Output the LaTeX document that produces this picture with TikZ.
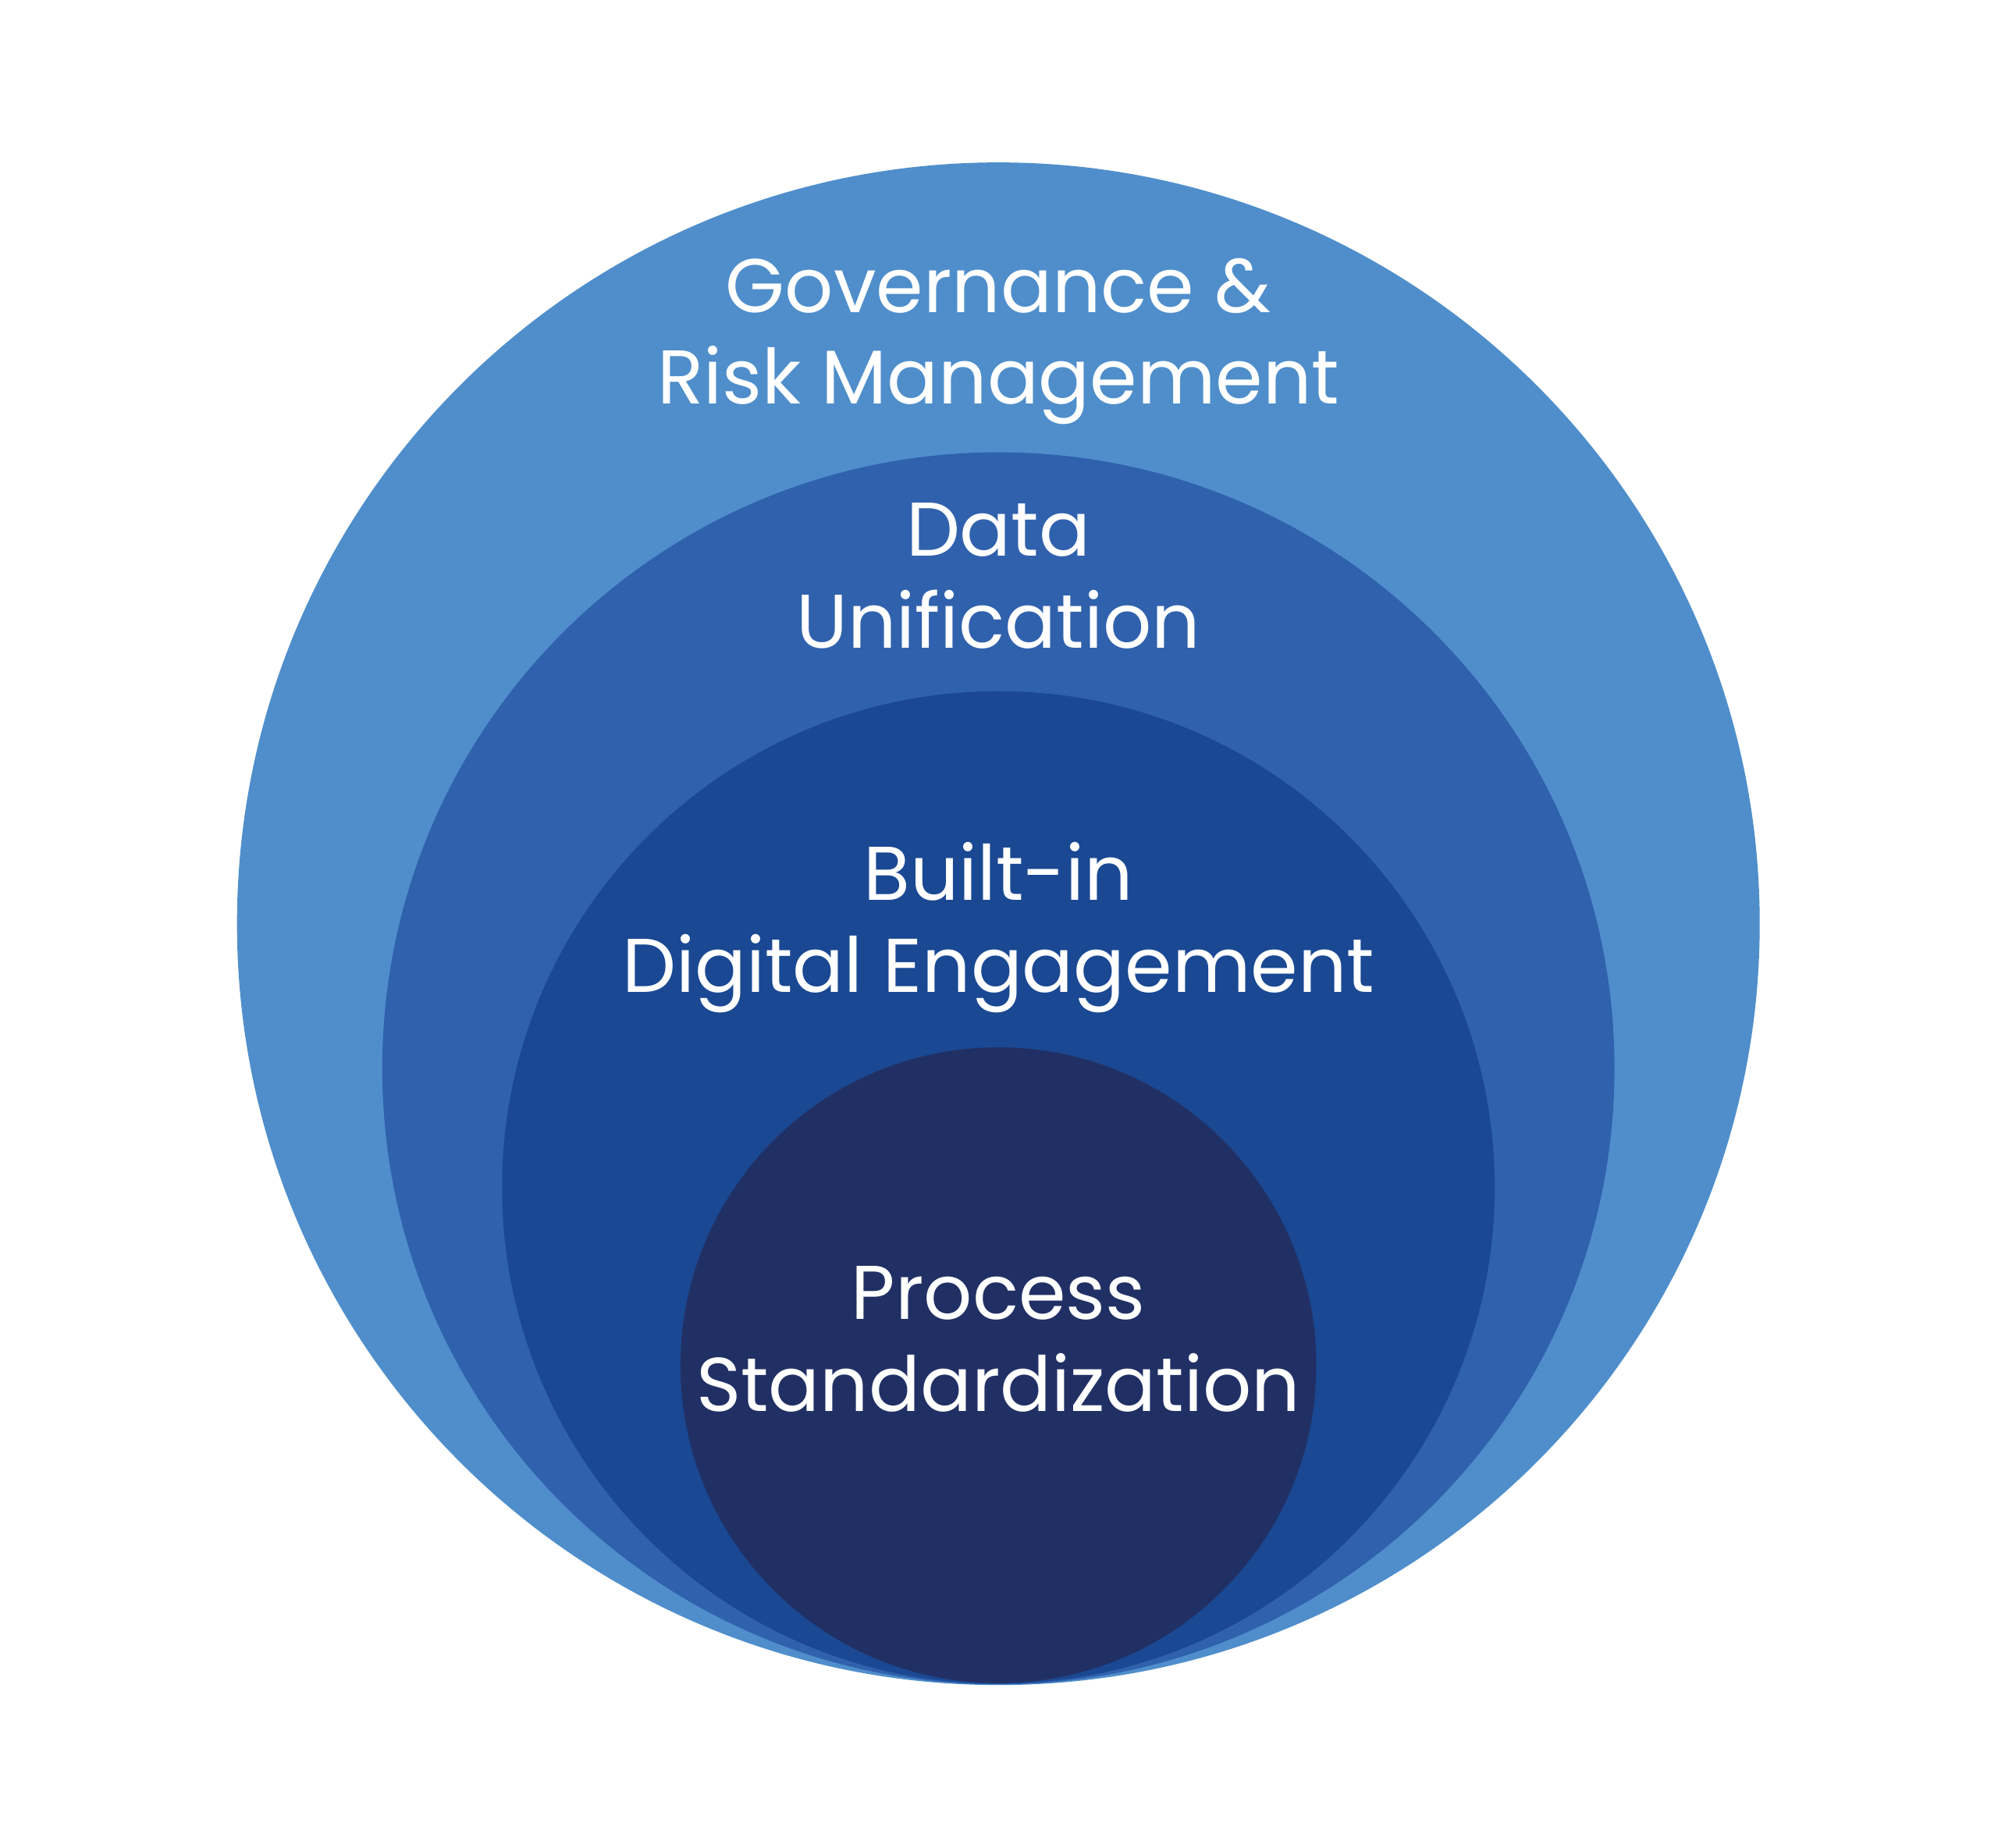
\documentclass[tikz,border=0pt]{standalone}
\usepackage{fontspec}
\setmainfont{Poppins}
\definecolor{govblue}{HTML}{4F8ECB}
\definecolor{datablue}{HTML}{3061AD}
\definecolor{digiblue}{HTML}{1A4893}
\definecolor{procblue}{HTML}{213064}

\begin{document}
\begin{tikzpicture}[
  ring/.style={text=white, align=center, inner sep=0pt,
    font=\fontsize{17}{20.5}\selectfont}]
  \useasboundingbox (0,0) rectangle (15.68,-14.50);
  % nested circles, all touching at the bottom
  \fill[govblue]  (7.835,-7.25)   circle (5.975);
  \fill[datablue] (7.835,-8.385)  circle (4.835);
  \fill[digiblue] (7.835,-9.32)   circle (3.895);
  \fill[procblue] (7.835,-10.715) circle (2.495);

  \node[ring] (gov)  at (7.835,-2.68)  {Governance \&\\Risk Management};
  \node[ring] (data) at (7.835,-4.52)  {Data\\Unification};
  \node[ring] (digi) at (7.835,-7.28)  {Built-in\\Digital Engagement};
  \node[ring] (proc) at (7.835,-10.51) {Process\\Standardization};
\end{tikzpicture}
\end{document}
